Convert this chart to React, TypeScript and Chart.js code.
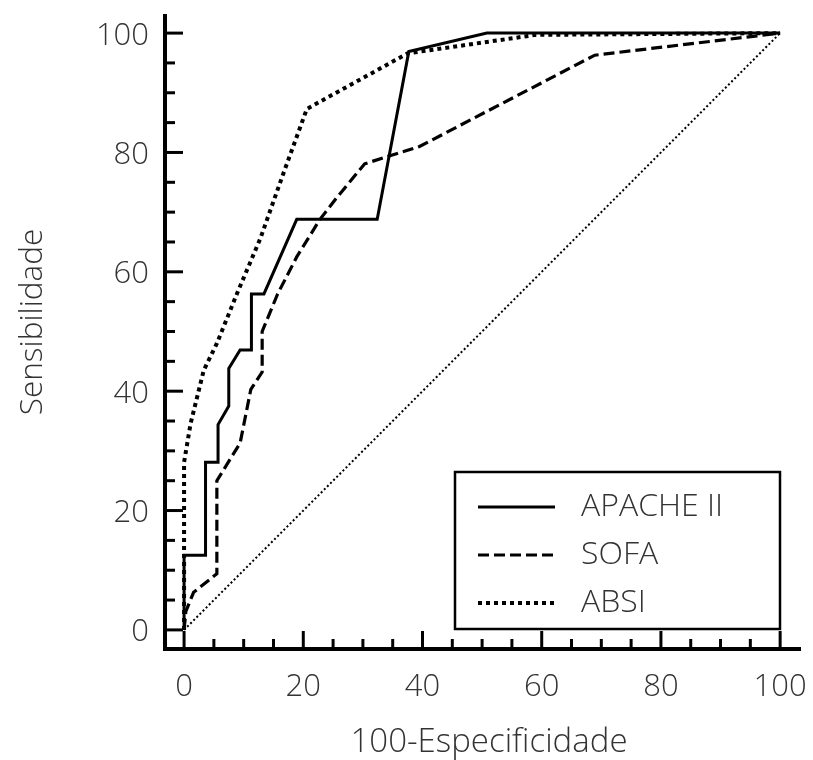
import { useEffect, useRef } from "react";
import { Chart, registerables } from "chart.js";

Chart.register(...registerables);

// ---- Data ----
const seriesNames = ["APACHE II", "SOFA", "ABSI"];

const apacheX = [0, 0, 3.6, 3.6, 5.7, 5.7, 7.5, 7.5, 9.4, 11.3, 11.3, 13.4, 18.9, 32.4, 37.7, 50.8, 100];
const apacheY = [0, 12.5, 12.5, 28.1, 28.1, 34.4, 37.5, 43.8, 46.9, 46.9, 56.3, 56.3, 68.8, 68.8, 96.9, 100, 100];

const sofaX = [0, 0.3, 1.6, 5.5, 5.5, 9.4, 11.2, 13.1, 13.1, 15.7, 18.9, 22.8, 25.6, 30.3, 39.5, 68.9, 100];
const sofaY = [0, 3.1, 6.3, 9.4, 25.0, 31.3, 40.3, 43.2, 50.0, 56.3, 62.5, 68.8, 72.4, 78.1, 81.0, 96.3, 100];

const absiX = [0, 0, 1.1, 3.3, 5.5, 8.9, 12.8, 16.7, 20.6, 37.5, 59, 100];
const absiY = [0, 28.1, 34.6, 43.5, 48.0, 56.4, 65.6, 76.6, 87.3, 96.6, 99.7, 100];

const diagX = [0, 100];
const diagY = [0, 100];

const xTickValues = [0, 20, 40, 60, 80, 100];
const yTickValues = [0, 20, 40, 60, 80, 100];
const minorStep = 5;

const xTitle = "100-Especificidade";
const yTitle = "Sensibilidade";

const FAMILY = '"Open Sans", "Noto Sans", sans-serif';
const TICK_FONT = `300 31px ${FAMILY}`;
const XTITLE_FONT = `300 33px ${FAMILY}`;
const YTITLE_FONT = `300 31.5px ${FAMILY}`;
const LEGEND_FONT = `300 32px ${FAMILY}`;
const TEXT_COLOR = "#333333";

function pts(xs: number[], ys: number[]) {
  return xs.map((x, i) => ({ x, y: ys[i] }));
}

const lineStyles = [
  { width: 3, dash: [] as number[] },
  { width: 3.2, dash: [11, 5] },
  { width: 4, dash: [4, 4] },
];

const axesPlugin = {
  id: "rocAxes",
  afterDatasetsDraw(chart: any) {
    const { ctx, chartArea } = chart;
    const xs = chart.scales.x;
    const ys = chart.scales.y;
    const ax = chartArea.left;
    const ay = chartArea.bottom;
    ctx.save();
    ctx.strokeStyle = "#000";
    ctx.lineCap = "butt";

    // axis lines
    ctx.lineWidth = 4;
    ctx.beginPath();
    ctx.moveTo(ax, chartArea.top);
    ctx.lineTo(ax, ay + 2);
    ctx.stroke();
    ctx.beginPath();
    ctx.moveTo(ax - 2, ay);
    ctx.lineTo(chartArea.right, ay);
    ctx.stroke();

    // ticks (inward)
    ctx.lineWidth = 3;
    const maxV = xTickValues[xTickValues.length - 1];
    for (let v = 0; v <= maxV; v += minorStep) {
      const major = xTickValues.includes(v);
      const len = major ? 18 : 10;
      const px = xs.getPixelForValue(v);
      ctx.beginPath();
      ctx.moveTo(px, ay);
      ctx.lineTo(px, ay - len);
      ctx.stroke();
    }
    const maxY = yTickValues[yTickValues.length - 1];
    for (let v = 0; v <= maxY; v += minorStep) {
      const major = yTickValues.includes(v);
      const len = major ? 18 : 10;
      const py = ys.getPixelForValue(v);
      ctx.beginPath();
      ctx.moveTo(ax, py);
      ctx.lineTo(ax + len, py);
      ctx.stroke();
    }

    // tick labels
    ctx.font = TICK_FONT;
    ctx.fillStyle = TEXT_COLOR;
    ctx.textBaseline = "alphabetic";
    ctx.textAlign = "center";
    for (const v of xTickValues) {
      ctx.fillText(String(v), xs.getPixelForValue(v), 696);
    }
    ctx.textAlign = "right";
    for (const v of yTickValues) {
      ctx.fillText(String(v), 149, ys.getPixelForValue(v) + 11.5);
    }

    // axis titles
    ctx.textAlign = "center";
    ctx.font = XTITLE_FONT;
    ctx.fillText(xTitle, 489, 752);
    ctx.save();
    ctx.font = YTITLE_FONT;
    ctx.translate(42, 322);
    ctx.rotate(-Math.PI / 2);
    ctx.fillText(yTitle, 0, 0);
    ctx.restore();

    // legend box
    const bx = 455, by = 472, bw = 325, bh = 157;
    ctx.fillStyle = "#fff";
    ctx.fillRect(bx, by, bw, bh);
    ctx.lineWidth = 2.5;
    ctx.strokeStyle = "#000";
    ctx.setLineDash([]);
    ctx.strokeRect(bx, by, bw, bh);
    const rows = [507, 555, 603];
    ctx.font = LEGEND_FONT;
    seriesNames.forEach((name, i) => {
      const st = lineStyles[i];
      ctx.lineWidth = st.width;
      ctx.setLineDash(st.dash);
      ctx.beginPath();
      ctx.moveTo(478, rows[i]);
      ctx.lineTo(555, rows[i]);
      ctx.stroke();
      ctx.setLineDash([]);
      ctx.fillStyle = TEXT_COLOR;
      ctx.textAlign = "left";
      ctx.fillText(name, 581, rows[i] + 8.5);
    });
    ctx.restore();
  },
};

export default function App() {
  const canvasRef = useRef<HTMLCanvasElement | null>(null);

  useEffect(() => {
    if (!canvasRef.current) return;
    const common = { showLine: true, pointRadius: 0, fill: false, tension: 0, borderColor: "#000" };
    const chart = new Chart(canvasRef.current, {
      type: "scatter",
      data: {
        datasets: [
          { ...common, label: seriesNames[0], data: pts(apacheX, apacheY), borderWidth: lineStyles[0].width, borderDash: lineStyles[0].dash },
          { ...common, label: seriesNames[1], data: pts(sofaX, sofaY), borderWidth: lineStyles[1].width, borderDash: lineStyles[1].dash },
          { ...common, label: seriesNames[2], data: pts(absiX, absiY), borderWidth: lineStyles[2].width, borderDash: lineStyles[2].dash },
          { ...common, label: "ref", data: pts(diagX, diagY), borderWidth: 2, borderDash: [2, 2.4], borderColor: "#000" },
        ],
      } as any,
      options: {
        responsive: false,
        animation: false,
        layout: { padding: { left: 165, right: 12, top: 14, bottom: 111 } },
        scales: {
          x: { type: "linear", min: -3.2, max: 103.5, display: false },
          y: { type: "linear", min: -3.2, max: 103.2, display: false },
        },
        plugins: { legend: { display: false }, tooltip: { enabled: false } },
        elements: { point: { radius: 0 }, line: { borderCapStyle: "butt", borderJoinStyle: "miter" } },
      } as any,
      plugins: [axesPlugin],
    });
    return () => chart.destroy();
  }, []);

  return (
    <div style={{ position: "absolute", left: 0, top: 0, width: 813, height: 760, background: "#fff" }}>
      <canvas ref={canvasRef} width={813} height={760} style={{ display: "block" }} />
    </div>
  );
}
